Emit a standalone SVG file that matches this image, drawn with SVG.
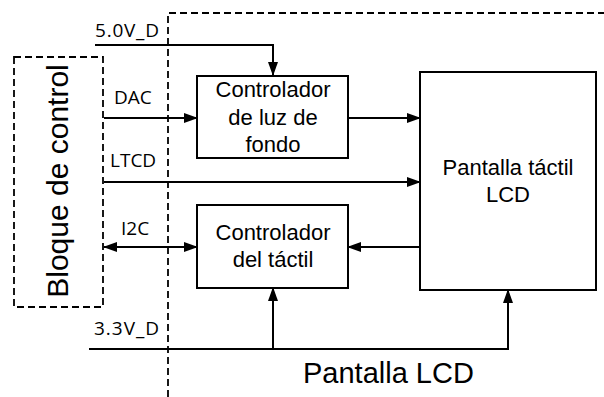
<svg xmlns="http://www.w3.org/2000/svg" width="604" height="397" viewBox="0 0 604 397">
<style>
.box{fill:#fff;stroke:#000;stroke-width:2}
.dash{fill:none;stroke:#000;stroke-width:1.8;stroke-dasharray:7 4}
.wire{fill:none;stroke:#000;stroke-width:2}
.t{font-family:"Liberation Sans",Arial,sans-serif;font-size:22px;fill:#000;text-anchor:middle}
.lbl{font-family:"Open Sans","Liberation Sans",sans-serif;font-size:19px;fill:#000}
</style>
<defs>
<marker id="ah" markerUnits="userSpaceOnUse" markerWidth="14" markerHeight="10" refX="13" refY="5" orient="auto-start-reverse" viewBox="0 0 14 10">
<path d="M0,0 L14,5 L0,10 Z" fill="#000"/>
</marker>
</defs>
<rect width="604" height="397" fill="#fff"/>
<g id="pantalla-lcd-region">
<path class="dash" d="M168,397 V13 H604"/>
<text class="t" x="303" y="383" style="text-anchor:start;font-size:29px">Pantalla LCD</text>
</g>
<g id="bloque-de-control">
<rect class="dash" x="14" y="57" width="89" height="250"/>
<text class="t" transform="translate(68,181) rotate(-90)" style="font-size:30px">Bloque de control</text>
</g>
<g id="controlador-luz">
<rect class="box" x="197" y="76" width="151" height="82"/>
<text class="t" x="273" y="97">Controlador</text>
<text class="t" x="273" y="125">de luz de</text>
<text class="t" x="273" y="152">fondo</text>
</g>
<g id="controlador-tactil">
<rect class="box" x="197" y="205" width="151" height="83"/>
<text class="t" x="273" y="240">Controlador</text>
<text class="t" x="273" y="267">del táctil</text>
</g>
<g id="pantalla-tactil">
<rect class="box" x="420" y="72" width="176" height="218"/>
<text class="t" x="508" y="175">Pantalla táctil</text>
<text class="t" x="508" y="202">LCD</text>
</g>
<g id="connectors">
<path class="wire" d="M95,45 H273 V75" marker-end="url(#ah)"/>
<path class="wire" d="M104,118 H197" marker-end="url(#ah)"/>
<path class="wire" d="M348,118 H420" marker-end="url(#ah)"/>
<path class="wire" d="M104,182 H420" marker-end="url(#ah)"/>
<path class="wire" d="M104,247 H197" marker-start="url(#ah)" marker-end="url(#ah)"/>
<path class="wire" d="M420,247 H348" marker-end="url(#ah)"/>
<path class="wire" d="M89,349 H508 V290" marker-end="url(#ah)"/>
<path class="wire" d="M273,349 V288" marker-end="url(#ah)"/>
<text class="lbl" x="95" y="37" textLength="64">5.0V_D</text>
<text class="lbl" x="114" y="104">DAC</text>
<text class="lbl" x="110" y="167">LTCD</text>
<text class="lbl" x="121" y="235">I2C</text>
<text class="lbl" x="94" y="335" textLength="65">3.3V_D</text>
</g>
</svg>
